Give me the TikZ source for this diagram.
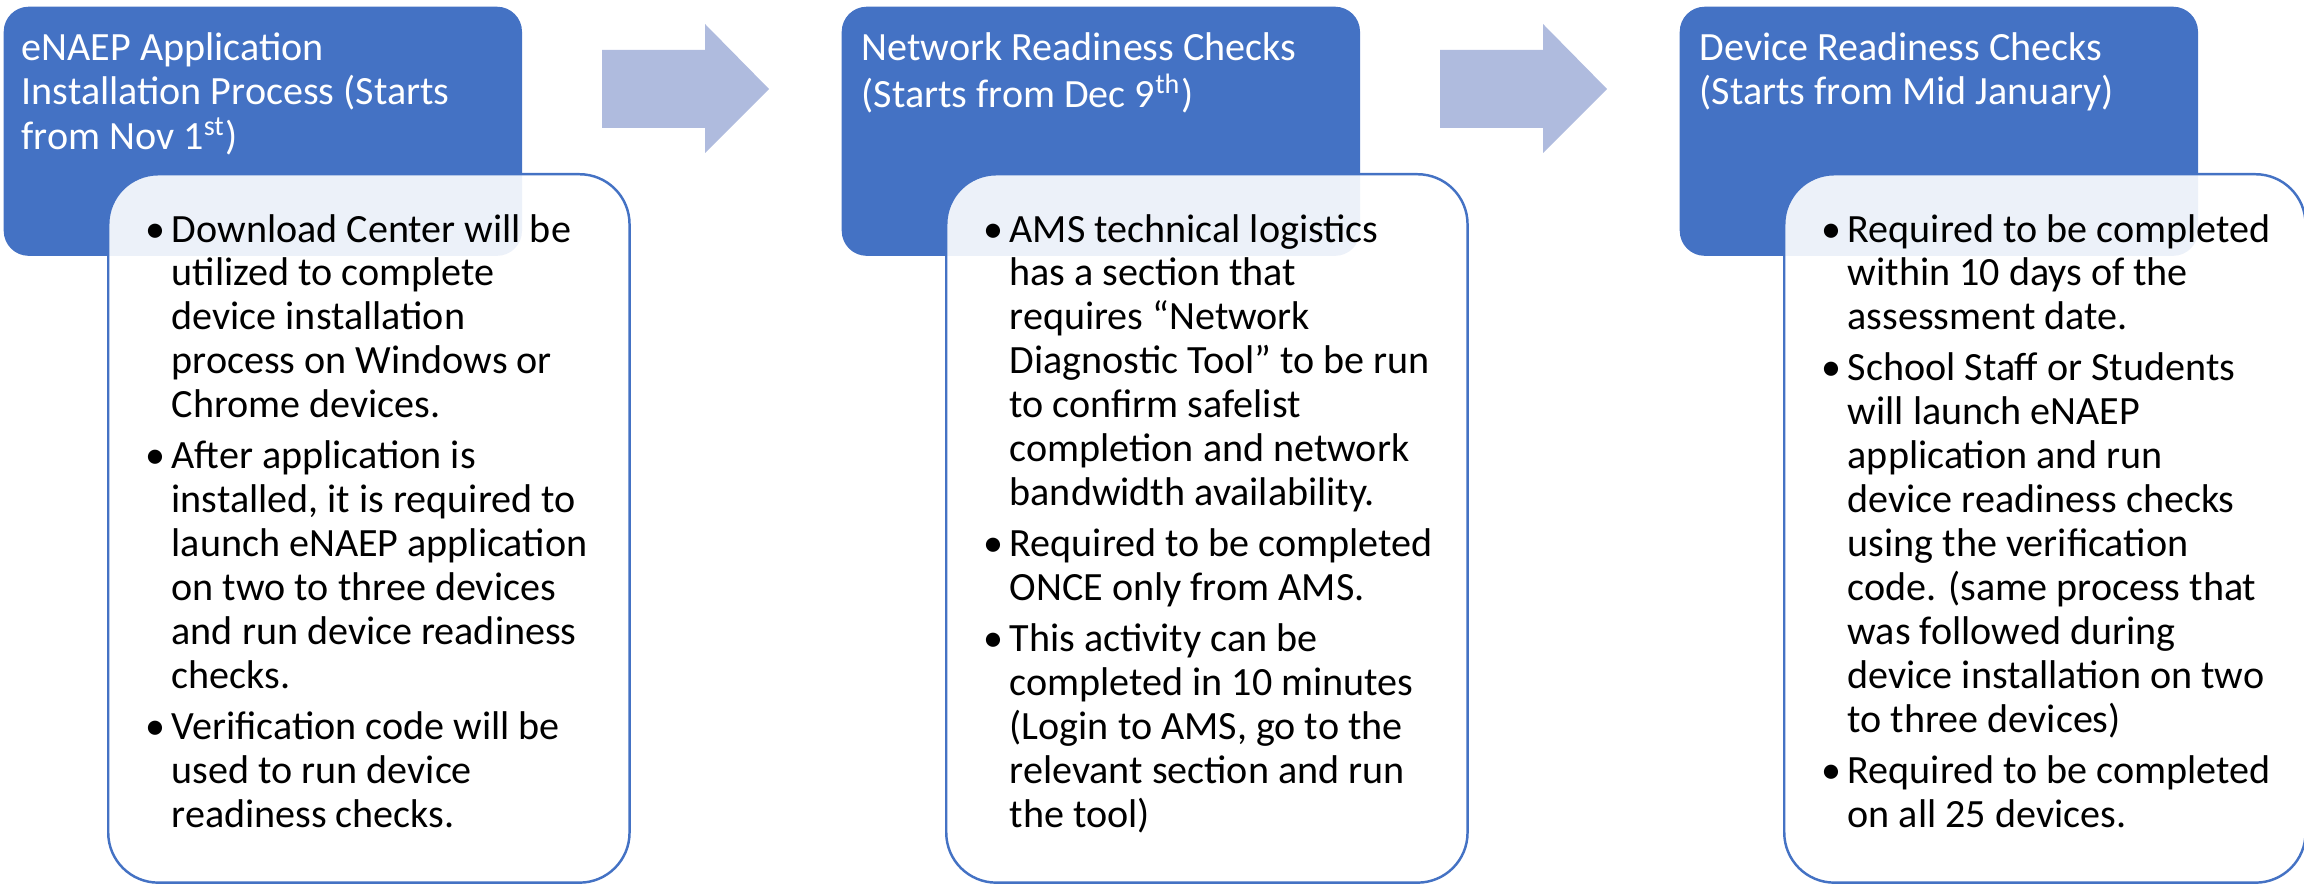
\documentclass[tikz,border=0pt]{standalone}
\usepackage{fontspec}
\setmainfont{Carlito}
\usepackage{xcolor}
\usepackage{tikz}
\definecolor{stepblue}{HTML}{4472C4}
\definecolor{arrowblue}{HTML}{AFBBDE}
\newcommand{\bul}{\makebox[0.26cm][l]{\textbullet}}
\tikzset{
  headbox/.style={
    fill=stepblue,rounded corners=0.25cm,anchor=north west,inner sep=0pt,
    minimum width=5.18cm,minimum height=2.49cm,
  },
  listbox/.style={
    draw=stepblue,line width=0.7pt,fill=white,fill opacity=0.9,
    rounded corners=0.5cm,anchor=north west,inner sep=0pt,
    minimum width=5.21cm,minimum height=7.08cm,
  },
  headtext/.style={text=white,anchor=base west,inner sep=0pt,font=\fontsize{11.4}{12.5}\selectfont},
  listtext/.style={text=black,anchor=base west,inner sep=0pt,font=\fontsize{11.4}{12.5}\selectfont},
}

\begin{document}
\begin{tikzpicture}[x=0.01cm,y=-0.01cm]
		\tikzstyle{blockarrow}=[fill=arrowblue]
		\useasboundingbox (0,0) rectangle (2304,885);

		% step 1
		\node[headbox] (head1) at (3,6) {};
		\node[headtext] (title1) at (21,61) {\begin{tabular}[t]{@{}l@{}}eNAEP Application\\ Installation Process (Starts\\ from Nov 1\textsuperscript{st})\end{tabular}};
		\node[listbox] (list1) at (107,173) {};
		\node[listtext] (items1) at (145,242) {\begin{tabular}[t]{@{}l@{}l@{}}
			\bul & Download Center will be\\
			& utilized to complete\\
			& device installation\\
			& process on Windows or\\
			& Chrome devices.\\[2pt]
			\bul & After application is\\
			& installed, it is required to\\
			& launch eNAEP application\\
			& on two to three devices\\
			& and run device readiness\\
			& checks.\\[2pt]
			\bul & Verification code will be\\
			& used to run device\\
			& readiness checks.
		\end{tabular}};

		% step 2
		\node[headbox] (head2) at (841,6) {};
		\node[headtext] (title2) at (861,61) {\begin{tabular}[t]{@{}l@{}}Network Readiness Checks\\ (Starts from Dec 9\textsuperscript{th})\end{tabular}};
		\node[listbox] (list2) at (945,173) {};
		\node[listtext] (items2) at (983,242) {\begin{tabular}[t]{@{}l@{}l@{}}
			\bul & AMS technical logistics\\
			& has a section that\\
			& requires “Network\\
			& Diagnostic Tool” to be run\\
			& to confirm safelist\\
			& completion and network\\
			& bandwidth availability.\\[2pt]
			\bul & Required to be completed\\
			& ONCE only from AMS.\\[2pt]
			\bul & This activity can be\\
			& completed in 10 minutes\\
			& (Login to AMS, go to the\\
			& relevant section and run\\
			& the tool)
		\end{tabular}};

		% step 3
		\node[headbox] (head3) at (1679,6) {};
		\node[headtext] (title3) at (1699,61) {\begin{tabular}[t]{@{}l@{}}Device Readiness Checks\\ (Starts from Mid January)\end{tabular}};
		\node[listbox] (list3) at (1783,173) {};
		\node[listtext] (items3) at (1821,242) {\begin{tabular}[t]{@{}l@{}l@{}}
			\bul & Required to be completed\\
			& within 10 days of the\\
			& assessment date.\\[2pt]
			\bul & School Staff or Students\\
			& will launch eNAEP\\
			& application and run\\
			& device readiness checks\\
			& using the verification\\
			& code. (same process that\\
			& was followed during\\
			& device installation on two\\
			& to three devices)\\[2pt]
			\bul & Required to be completed\\
			& on all 25 devices.
		\end{tabular}};

		% arrows between the steps
		\coordinate (arrow1) at (602,50);
		\coordinate (arrow2) at (1440,50);
		\fill[blockarrow] (arrow1) -- ++(103,0) -- ++(0,-26) -- ++(64,65) -- ++(-64,64) -- ++(0,-25) -- ++(-103,0) -- cycle;
		\fill[blockarrow] (arrow2) -- ++(103,0) -- ++(0,-26) -- ++(64,65) -- ++(-64,64) -- ++(0,-25) -- ++(-103,0) -- cycle;

	\end{tikzpicture}
\end{document}
